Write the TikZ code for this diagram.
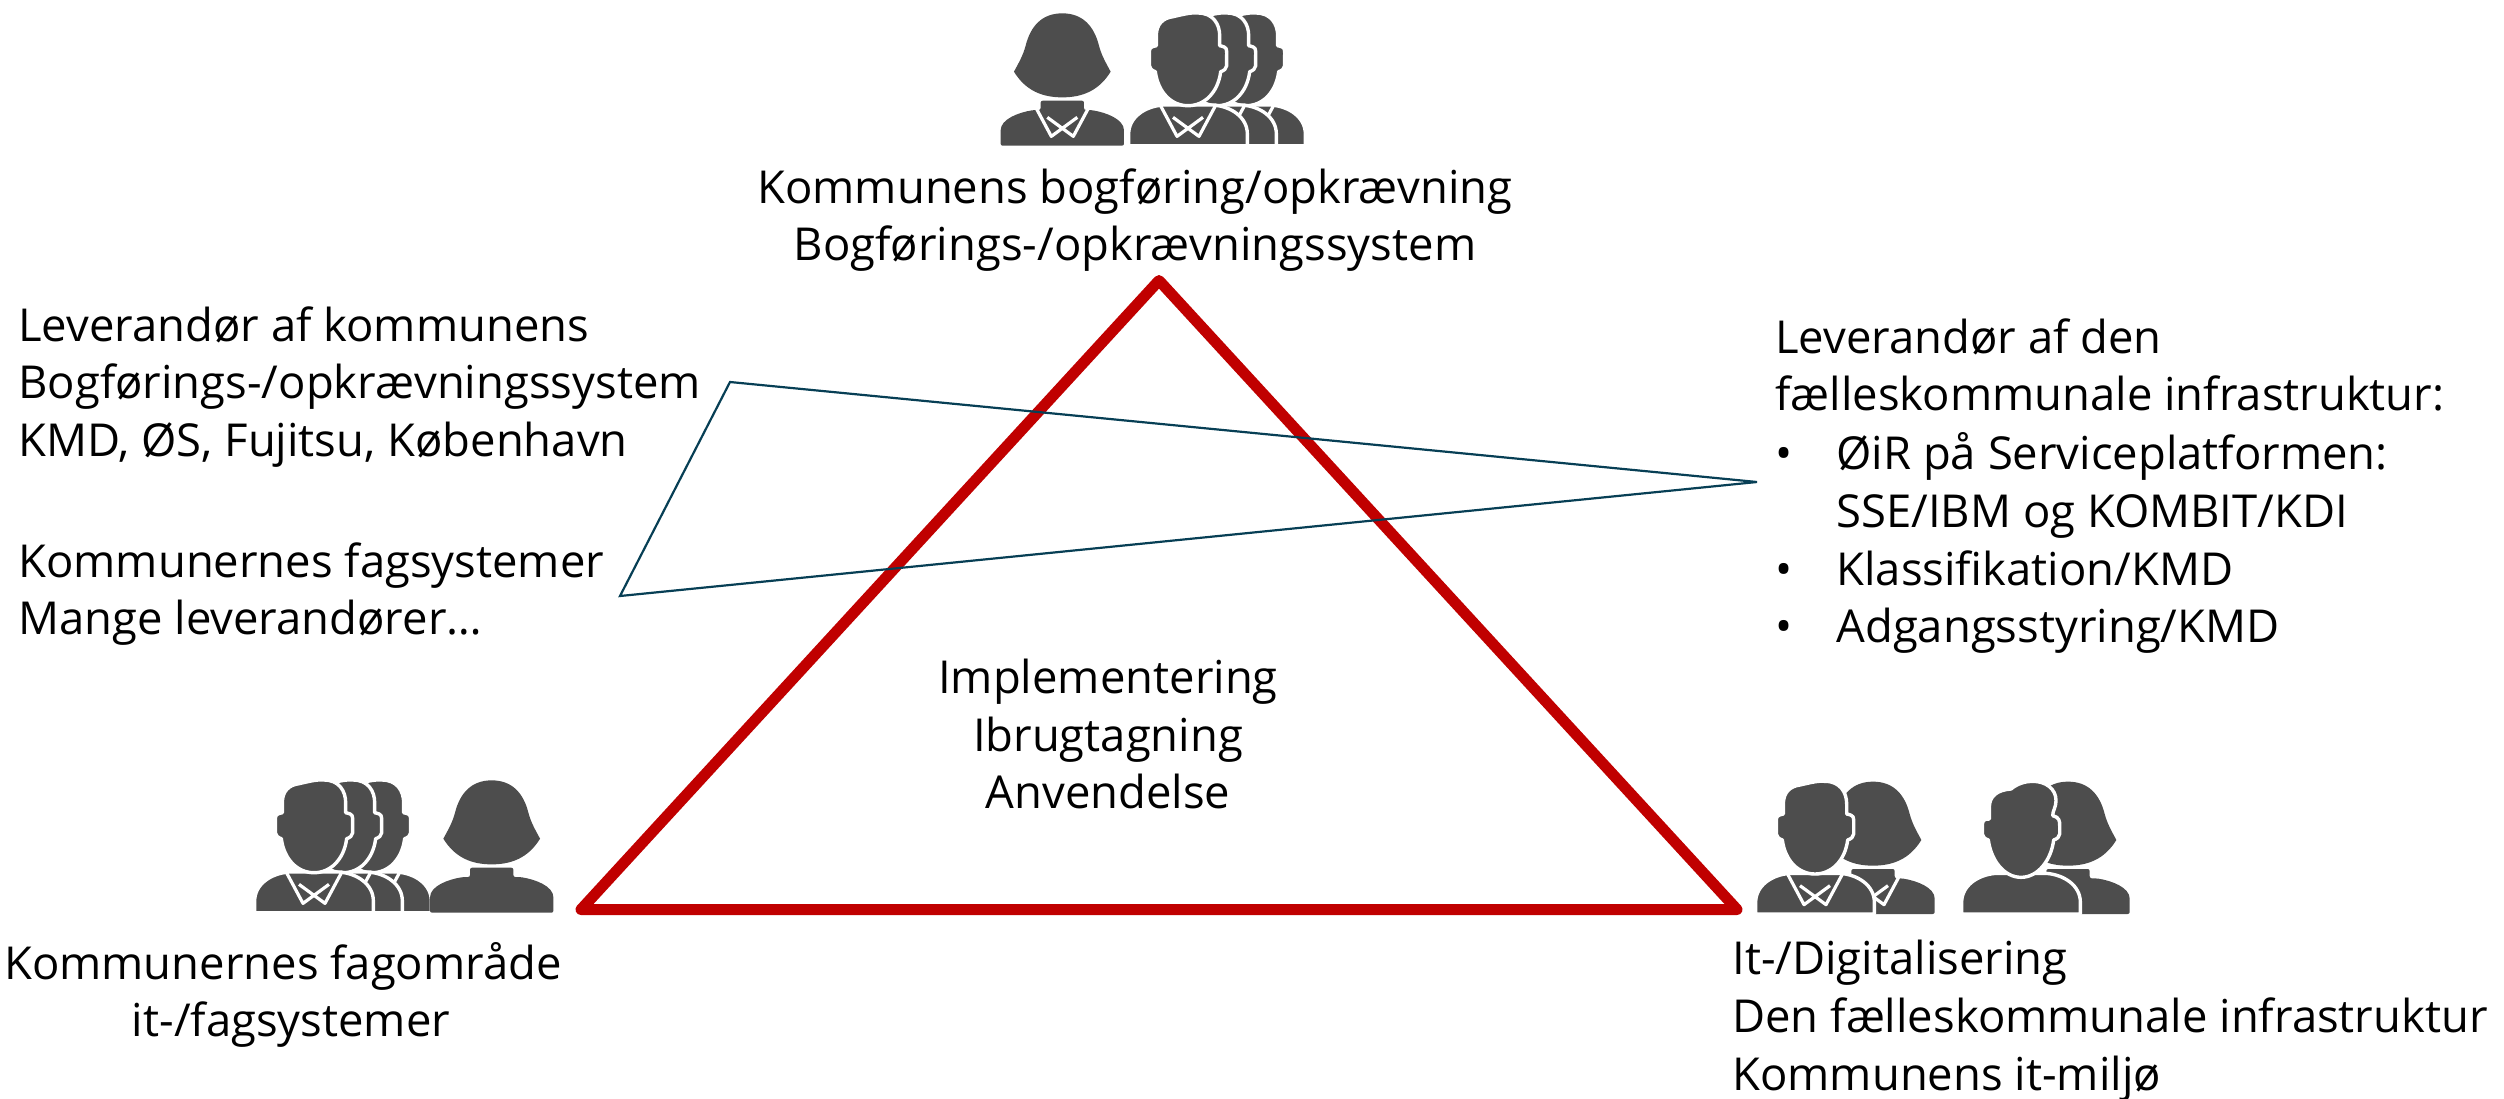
\documentclass[tikz,border=0pt]{standalone}
\usepackage{fontspec}
\setmainfont{Open Sans}
\definecolor{icon}{HTML}{4D4D4D}
\definecolor{tri}{HTML}{C00000}
\definecolor{tealline}{HTML}{073F55}
\tikzset{
  lbl/.style={inner sep=0pt,font=\fontsize{22.7}{28.9}\selectfont,align=left,text=black},
  lblc/.style={lbl,align=center},
  ico/.style={fill=icon,draw=white,line width=1.7pt,line join=round},
  collar/.style={draw=white,line width=1.6pt,line join=round},
}
\newcommand{\womanpic}[3]{% x, y, collar
  \begin{scope}[shift={(#1,#2)},x=0.1667pt,y=-0.1667pt]
    \fill[icon,rounded corners=1pt] (-185,0) -- (-185,-40) .. controls (-185,-80) and (-130,-100) .. (-85,-107) -- (-65,-107) -- (-65,-135) -- (65,-135) -- (65,-107) -- (85,-107) .. controls (130,-100) and (185,-80) .. (185,-40) -- (185,0) -- cycle;
    #3
    \fill[icon] (0,-397) .. controls (-60,-397) and (-95,-360) .. (-110,-300) .. controls (-118,-270) and (-130,-250) .. (-145,-222) .. controls (-110,-165) and (-60,-145) .. (0,-145) .. controls (60,-145) and (110,-165) .. (145,-222) .. controls (130,-250) and (118,-270) .. (110,-300) .. controls (95,-360) and (60,-397) .. (0,-397) -- cycle;
  \end{scope}}
\newcommand{\wcollar}{\draw[collar] (-85,-125) -- (-33,-28) -- (45,-85) (85,-125) -- (33,-28) -- (-45,-85);}
\newcommand{\manbody}{(-178,0) -- (-178,-35) .. controls (-178,-85) and (-130,-118) .. (-75,-122) -- (75,-122) .. controls (130,-118) and (178,-85) .. (178,-35) -- (178,0) -- cycle}
\newcommand{\manhead}{(-95,-300) -- (-95,-330) .. controls (-95,-365) and (-75,-383) .. (-45,-387) .. controls (-10,-395) and (10,-400) .. (30,-398) .. controls (75,-398) and (95,-365) .. (95,-330) -- (95,-300) .. controls (118,-295) and (116,-292) .. (116,-270) -- (116,-240) .. controls (116,-232) and (108,-225) .. (98,-222) .. controls (90,-160) and (50,-120) .. (0,-120) .. controls (-50,-120) and (-90,-160) .. (-98,-222) .. controls (-108,-225) and (-116,-232) .. (-116,-240) -- (-116,-270) .. controls (-116,-292) and (-118,-295) .. (-95,-300) -- cycle}
\newcommand{\manheadb}{(-95,-285) -- (-95,-320) .. controls (-95,-355) and (-70,-372) .. (-30,-375) .. controls (-10,-392) and (15,-398) .. (35,-398) .. controls (75,-398) and (105,-375) .. (105,-340) .. controls (105,-320) and (95,-310) .. (95,-295) .. controls (115,-290) and (116,-280) .. (116,-265) -- (116,-240) .. controls (116,-232) and (108,-225) .. (98,-222) .. controls (90,-160) and (50,-110) .. (0,-110) .. controls (-50,-110) and (-90,-160) .. (-98,-222) .. controls (-108,-225) and (-116,-232) .. (-116,-240) -- (-116,-265) .. controls (-116,-280) and (-112,-285) .. (-95,-285) -- cycle}
\newcommand{\manpic}[2]{%
  \begin{scope}[shift={(#1,#2)},x=0.1667pt,y=-0.1667pt]
    \path[ico] \manbody;
    \draw[collar] (-85,-125) -- (-33,-28) -- (45,-85) (85,-125) -- (33,-28) -- (-45,-85);
    \path[ico] \manhead;
  \end{scope}}
\newcommand{\manpicb}[2]{%
  \begin{scope}[shift={(#1,#2)},x=0.1667pt,y=-0.1667pt]
    \path[ico] \manbody;
    \path[ico] \manheadb;
  \end{scope}}
\begin{document}
\begin{tikzpicture}[x=0.5pt,y=-0.5pt]
\useasboundingbox (0,0) rectangle (2504,1098);
% top group
\womanpic{1062.3}{145.7}{\wcollar}
\manpic{1246}{145.7}
\manpic{1217}{145.7}
\manpic{1188}{145.7}
% left group
\manpic{372}{912.7}
\manpic{343}{912.7}
\manpic{314}{912.7}
\womanpic{491.7}{912.7}{}
% right groups
\womanpic{1873}{914}{\wcollar}
\manpic{1815}{914}
\womanpic{2068}{914}{}
\manpicb{2021}{914}
% triangle
\coordinate (ta) at (1159,280.5);
\coordinate (tl) at (581,909.5);
\coordinate (tr) at (1737,909.5);
\draw[tri,line width=5.5pt,line join=round] (ta) -- (tr) -- (tl) -- cycle;
% teal polygon
\coordinate (pa) at (730,382);
\coordinate (pb) at (1757,482);
\coordinate (pc) at (620,596);
\draw[tealline,line width=1.1pt] (pa) -- (pb) -- (pc) -- cycle;
% texts
\node[lblc] (top) at (1135,220) {Kommunens bogføring/opkrævning\\Bogførings-/opkrævningssystem};
\node[lblc] (mid) at (1108,734) {Implementering\\Ibrugtagning\\Anvendelse};
\node[lblc] (fag) at (283,995) {Kommunernes fagområde\\\hspace{8pt}it-/fagsystemer};
\node[lbl,anchor=north west] (lev) at (18,306) {Leverandør af kommunens\\Bogførings-/opkrævningssystem\\KMD, ØS, Fujitsu, København};
\node[lbl,anchor=north west] (kf) at (18,542) {Kommunernes fagsystemer\\Mange leverandører…};
\node[lbl,anchor=north west] (inf) at (1775,318) {Leverandør af den\\fælleskommunale infrastruktur:};
\node[lbl,anchor=north west] (b1) at (1775,432) {•\hspace{22pt}ØiR på Serviceplatformen:\\\hphantom{•}\hspace{22pt}SSE/IBM og KOMBIT/KDI\\•\hspace{22pt}Klassifikation/KMD\\•\hspace{22pt}Adgangsstyring/KMD};
\node[lbl,anchor=north west] (it) at (1732,940) {It-/Digitalisering\\Den fælleskommunale infrastruktur\\Kommunens it-miljø};
\end{tikzpicture}
\end{document}
